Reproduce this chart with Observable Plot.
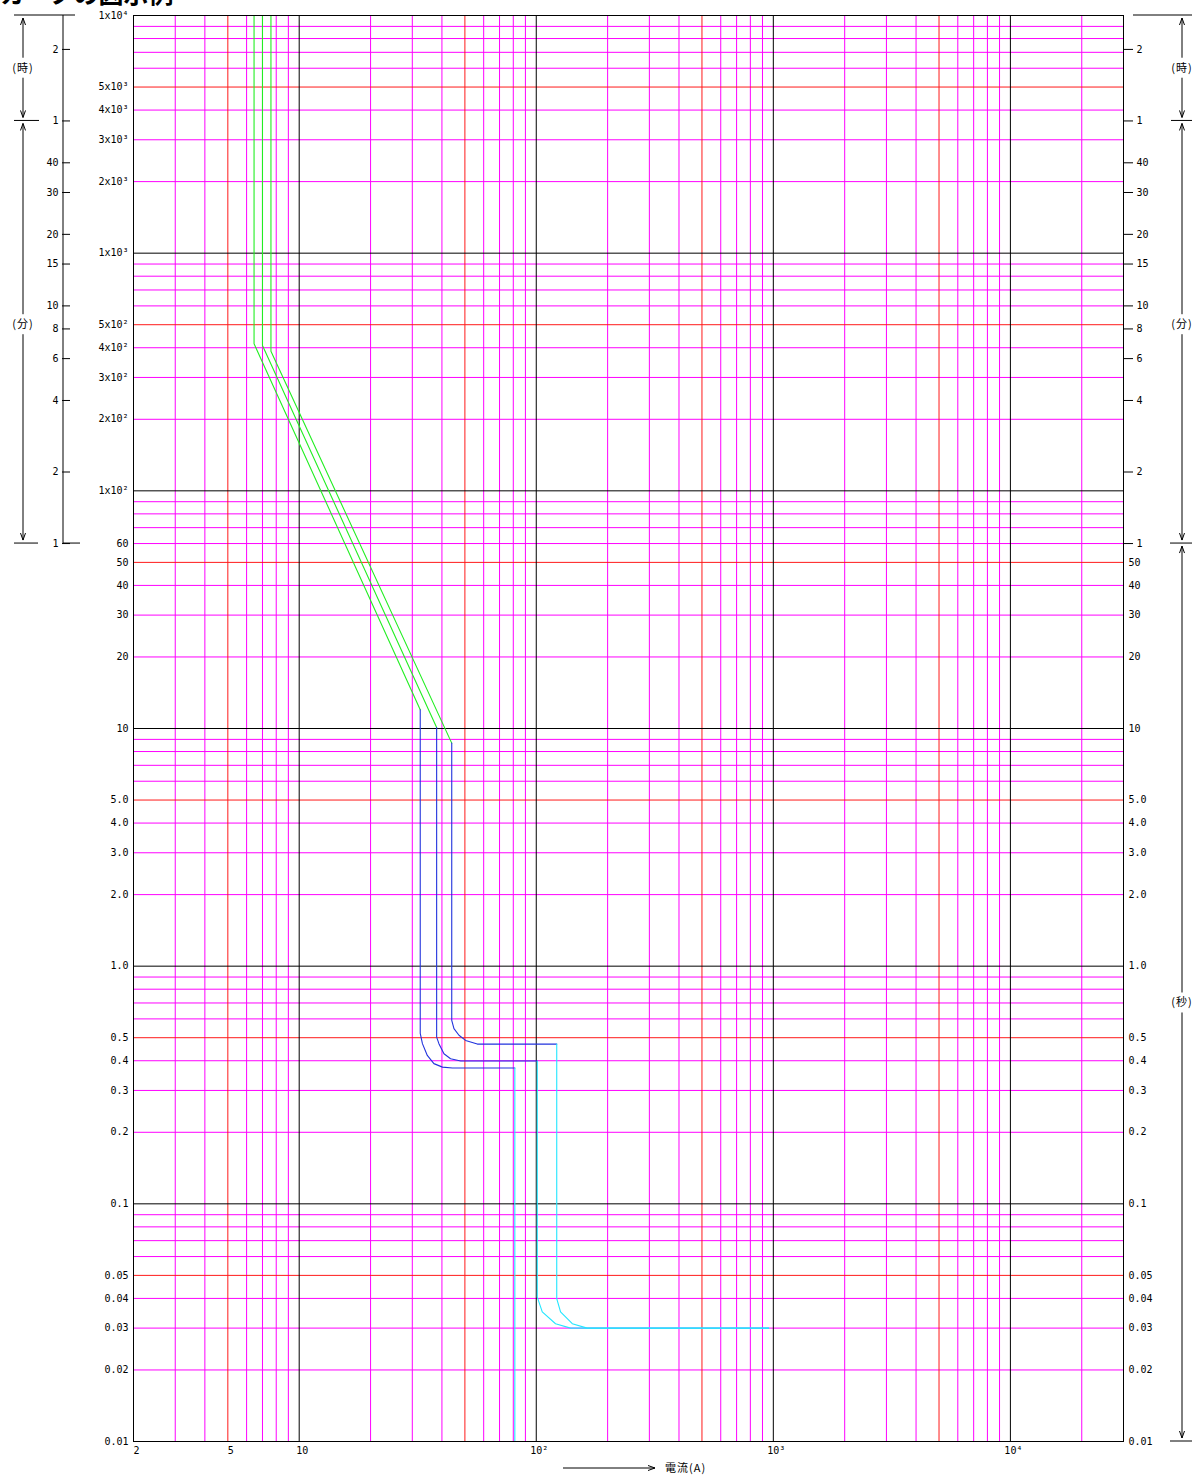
<!DOCTYPE html>
<html>
<head>
<meta charset="utf-8">
<script src="https://cdn.jsdelivr.net/npm/d3@7"></script>
<script src="https://cdn.jsdelivr.net/npm/@observablehq/plot@0.6"></script>
<style>
  html, body { margin: 0; padding: 0; background: #fff; }
  #wrap { position: relative; width: 1192px; height: 1475px; overflow: hidden; }
  #title { position: absolute; left: 0; top: -20px; margin: 0; font: bold 25px/25px "Noto Sans CJK JP"; white-space: nowrap; z-index: 2; }
  #chart svg { display: block; }
</style>
</head>
<body>
<div id="wrap">
  <h1 id="title">カーブの図示例</h1>
  <div id="chart"></div>
</div>
<script>
// ---- scales ----
const currentDomain = [2, 30000];   // A
const timeDomain = [0.01, 10000];   // s

// ---- log grid, current axis (A) ----
const xGridDecade = [10, 100, 1000, 10000];
const xGridFive = [5, 50, 500, 5000];
const xGridOther = [3, 4, 6, 7, 8, 9,
  20, 30, 40, 60, 70, 80, 90,
  200, 300, 400, 600, 700, 800, 900,
  2000, 3000, 4000, 6000, 7000, 8000, 9000,
  20000];

// ---- log grid, time axis (s) ----
const yGridDecade = [0.1, 1, 10, 100, 1000];
const yGridFive = [0.05, 0.5, 5, 50, 500, 5000];
const yGridOther = [0.02, 0.03, 0.04, 0.06, 0.07, 0.08, 0.09,
  0.2, 0.3, 0.4, 0.6, 0.7, 0.8, 0.9,
  2, 3, 4, 6, 7, 8, 9,
  20, 30, 40, 60, 70, 80, 90,
  200, 300, 400, 600, 700, 800, 900,
  2000, 3000, 4000, 6000, 7000, 8000, 9000];

// ---- tick labels ----
const xTickValues = [2, 5, 10, 100, 1000, 10000];
const xTickLabels = ["2", "5", "10", "10²", "10³", "10⁴"];

const secTickValues = [10000, 5000, 4000, 3000, 2000, 1000, 500, 400, 300, 200, 100,
  60, 50, 40, 30, 20, 10, 5, 4, 3, 2, 1, 0.5, 0.4, 0.3, 0.2, 0.1, 0.05, 0.04, 0.03, 0.02, 0.01];
const secTickLabels = ["1x10⁴", "5x10³", "4x10³", "3x10³", "2x10³", "1x10³", "5x10²", "4x10²", "3x10²", "2x10²", "1x10²",
  "60", "50", "40", "30", "20", "10", "5.0", "4.0", "3.0", "2.0", "1.0", "0.5", "0.4", "0.3", "0.2", "0.1", "0.05", "0.04", "0.03", "0.02", "0.01"];
const rightSecTickValues = [50, 40, 30, 20, 10, 5, 4, 3, 2, 1, 0.5, 0.4, 0.3, 0.2, 0.1, 0.05, 0.04, 0.03, 0.02, 0.01];

// hours / minutes expressed in seconds
const hmTickValues = [7200, 3600, 2400, 1800, 1200, 900, 600, 480, 360, 240, 120, 60];
const hmTickLabels = ["2", "1", "40", "30", "20", "15", "10", "8", "6", "4", "2", "1"];

// unit brackets: upper end, lower end and label position, in seconds
const unitSpans = [
  {label: "(時)", top: 10000, bottom: 3600, at: 6000},
  {label: "(分)", top: 3600, bottom: 60, at: 500},
  {label: "(秒)", top: 60, bottom: 0.01, at: 0.7}
];

// ---- characteristic curves: [current A, time s] ----
// curve A
const greenA = [[6.45, 10000], [6.45, 416], [32.4, 12.0]];
const blueA = [[32.4, 12.0], [32.4, 0.522], [33.1, 0.472], [34.7, 0.421], [37.0, 0.389], [40.2, 0.376], [44.3, 0.373], [81.2, 0.373]];
const cyanA = [[81.2, 0.373], [81.2, 0.01]];
// curve B
const greenB = [[7.0, 10000], [7.0, 409], [38.0, 10.1]];
const blueB = [[38.0, 10.1], [38.0, 0.503], [38.85, 0.472], [40.8, 0.428], [43.5, 0.408], [48.0, 0.399], [101, 0.399]];
const cyanB = [[101, 0.399], [101, 0.0405], [106, 0.0351], [120.6, 0.0313], [139.5, 0.0300], [956, 0.0300]];
// curve C
const greenC = [[7.6, 10000], [7.6, 387], [44.0, 8.68]];
const blueC = [[44.0, 8.68], [44.0, 0.592], [44.96, 0.546], [47.2, 0.512], [50.35, 0.487], [56.4, 0.470], [122, 0.470]];
const cyanC = [[122, 0.470], [122, 0.0399], [126.6, 0.0351], [141.9, 0.0313], [164, 0.0300], [956, 0.0300]];

// ---- styles ----
const GREEN = "#22ee22", BLUE = "#2233dd", CYAN = "#22e6ff";
const MAGENTA = "#ff00ff", RED = "#ff1a1a", BLACK = "#000000";

const segments = [
  [greenA, GREEN], [greenB, GREEN], [greenC, GREEN],
  [blueA, BLUE], [blueB, BLUE], [blueC, BLUE],
  [cyanA, CYAN], [cyanB, CYAN], [cyanC, CYAN]
];

const labelOf = (values, labels) => {
  const m = new Map(values.map((v, i) => [v, labels[i]]));
  return d => m.get(d);
};
const secLabel = labelOf(secTickValues, secTickLabels);
const hmLabel = labelOf(hmTickValues, hmTickLabels);
const xLabel = labelOf(xTickValues, xTickLabels);
const blank = () => "";

const W = 1192, H = 1475;
const M = {top: 15, right: 69, bottom: 34, left: 133};

const chart = Plot.plot({
  width: W,
  height: H,
  marginTop: M.top,
  marginRight: M.right,
  marginBottom: M.bottom,
  marginLeft: M.left,
  style: {fontFamily: "'DejaVu Sans Mono', monospace", fontSize: "10px", background: "#fff", overflow: "visible"},
  x: {type: "log", domain: currentDomain, axis: null},
  y: {type: "log", domain: timeDomain},
  marks: [
    // grid
    Plot.ruleX(xGridOther, {stroke: MAGENTA, strokeWidth: 1}),
    Plot.ruleY(yGridOther, {stroke: MAGENTA, strokeWidth: 1}),
    Plot.ruleX(xGridFive, {stroke: RED, strokeWidth: 1}),
    Plot.ruleY(yGridFive, {stroke: RED, strokeWidth: 1}),
    Plot.ruleX(xGridDecade, {stroke: BLACK, strokeWidth: 1}),
    Plot.ruleY(yGridDecade, {stroke: BLACK, strokeWidth: 1}),
    // curves
    ...segments.map(([pts, color]) =>
      Plot.line(pts, {x: d => d[0], y: d => d[1], stroke: color, strokeWidth: 1.1})),
    Plot.frame({stroke: BLACK, strokeWidth: 1}),
    // hour / minute tick marks on both sides
    Plot.axisY({anchor: "right", ticks: hmTickValues, tickFormat: blank, tickSize: 9, label: null}),
    Plot.axisY({anchor: "left", ticks: hmTickValues, tickFormat: blank, tickSize: 8, dx: -63, label: null}),
    // current labels
    Plot.text(xTickValues, {x: d => d, text: xLabel, frameAnchor: "bottom", lineAnchor: "top", dy: 5, dx: 3}),
    // seconds labels inside the left margin and on the right
    Plot.text(secTickValues, {y: d => d, text: secLabel, frameAnchor: "left", textAnchor: "end", dx: -5}),
    Plot.text(rightSecTickValues, {y: d => d, text: secLabel, frameAnchor: "right", textAnchor: "start", dx: 5}),
    // hour / minute labels
    Plot.text(hmTickValues, {y: d => d, text: hmLabel, frameAnchor: "right", textAnchor: "start", dx: 13}),
    Plot.text(hmTickValues, {y: d => d, text: hmLabel, frameAnchor: "left", textAnchor: "end", dx: -75})
  ]
});

document.getElementById("chart").appendChild(chart);

// ---- side brackets, unit arrows and current-axis caption ----
const ysc = chart.scale("y");
const y = d3.scaleLog().domain(ysc.domain).range(ysc.range);
const L = M.left, R = W - M.right, B = H - M.bottom;
const svg = d3.select(chart);
const deco = svg.append("g").attr("fill", "none").attr("stroke", BLACK).attr("stroke-width", 1);

const hline = (x1, x2, v) => deco.append("line").attr("x1", x1).attr("x2", x2).attr("y1", y(v)).attr("y2", y(v));
const vline = (x, y1, y2) => deco.append("line").attr("x1", x).attr("x2", x).attr("y1", y1).attr("y2", y2);
const head = (x, tipY, dir) => deco.append("path")
  .attr("d", `M${x - 2.5},${tipY - dir * 7}L${x},${tipY}L${x + 2.5},${tipY - dir * 7}`);

// left outer hour/minute axis line
vline(L - 70, y(10000), y(60));
hline(L - 119, L - 58, 10000);
hline(L - 119, L - 94, 3600);
hline(L - 119, L - 95, 60);
hline(L - 70, L - 53, 60);

// right brackets
hline(R + 10, W, 10000);
hline(R + 48, W, 3600);
hline(R + 47, W, 60);
hline(R + 47, W, 0.01);

const labelLayer = svg.append("g")
  .attr("font-family", "'Noto Sans CJK JP', sans-serif")
  .attr("font-size", 11)
  .attr("text-anchor", "middle")
  .attr("fill", BLACK);

function unitArrow(x, span) {
  const yc = y(span.at), yt = y(span.top) + 3, yb = y(span.bottom) - 3;
  vline(x, yt, yc - 10);
  vline(x, yc + 10, yb);
  head(x, yt, -1);
  head(x, yb, 1);
  labelLayer.append("text").attr("x", x).attr("y", yc).attr("dy", "0.35em")
    .attr("letter-spacing", 1).text(span.label);
}
unitArrow(L - 110, unitSpans[0]);
unitArrow(L - 110, unitSpans[1]);
unitArrow(R + 59, unitSpans[0]);
unitArrow(R + 59, unitSpans[1]);
unitArrow(R + 59, unitSpans[2]);

// current-axis caption with arrow
const capY = B + 27;
deco.append("line").attr("x1", 563).attr("x2", 655).attr("y1", capY).attr("y2", capY);
deco.append("path").attr("d", `M${648},${capY - 2.5}L${655},${capY}L${648},${capY + 2.5}`);
labelLayer.append("text").attr("x", 665).attr("y", capY).attr("dy", "0.35em")
  .attr("text-anchor", "start").attr("letter-spacing", 1).text("電流(A)");
</script>
</body>
</html>
